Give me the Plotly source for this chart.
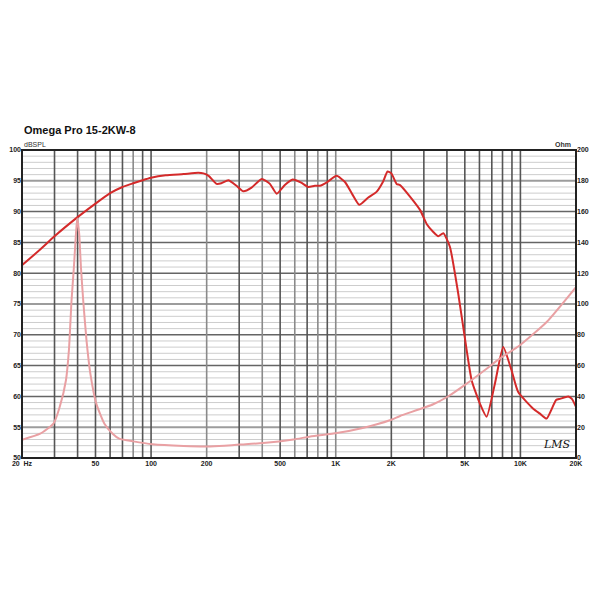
import math
import plotly.graph_objects as go

# ---- data ----
spl_freq = [20, 25, 30, 40, 50, 60, 70, 80, 90, 100, 120, 150, 180, 192, 205, 226, 240, 262, 290, 316,
            350, 397, 440, 479, 530, 585, 650, 710, 770, 821, 900, 1011, 1122, 1230, 1341, 1500, 1663,
            1800, 1908, 2000, 2137, 2230, 2530, 2870, 3106, 3374, 3590, 3822, 4150, 4605, 5117, 5445,
            6040, 6560, 7280, 8070, 8960, 9730, 11730, 12760, 13870, 15600, 16400, 18150, 19000, 20000]
spl_db = [81.3, 83.8, 86.0, 89.1, 91.3, 93.0, 94.0, 94.6, 95.1, 95.5, 95.9, 96.1, 96.3, 96.2, 95.8, 94.5, 94.6, 95.1, 94.2, 93.3,
          93.9, 95.3, 94.5, 92.9, 94.3, 95.2, 94.7, 94.0, 94.2, 94.2, 94.8, 95.8, 94.8, 92.8, 91.1, 92.3, 93.2,
          94.8, 96.5, 96.2, 94.5, 94.3, 92.4, 90.2, 88.0, 86.7, 86.0, 86.5, 84.3, 76.7, 67.5, 62.6,
          58.8, 56.7, 62.1, 68.0, 64.2, 60.7, 58.0, 57.2, 56.4, 59.4, 59.6, 60.0, 59.6, 58.3]

imp_freq = [20, 25.1, 29.6, 32.0, 34.6, 35.9, 37.1, 38.2, 39.2, 39.8, 40.8, 41.7, 42.9, 44.7, 46.9, 50.5,
            55.9, 61.9, 67.2, 80, 102, 150, 200, 250, 300, 404, 590, 728, 1013, 1400, 1964, 2230, 3374,
            4070, 5117, 6560, 7720, 9940, 13870, 20000]
imp_ohm = [11.9, 15.8, 22.3, 33.1, 50.5, 70.0, 102.4, 124.0, 145.7, 155.5, 145.7, 124.0, 102.4, 76.4, 54.8, 35.3,
           22.3, 15.8, 12.6, 10.8, 8.9, 7.8, 7.5, 8.0, 8.7, 9.7, 12.0, 14.0, 16.2, 19.5, 24.5, 27.3, 34.9,
           40.1, 48.3, 58.0, 64.5, 73.2, 88.3, 111.0]

x_tickvals = [20, 50, 100, 200, 500, 1000, 2000, 5000, 10000, 20000]
x_ticktext = ["20  Hz", "50", "100", "200", "500", "1K", "2K", "5K", "10K", "20K"]
x_grid = [30, 40, 50, 60, 70, 80, 90, 100, 200, 300, 400, 500, 600, 700, 800, 900,
          1000, 2000, 3000, 4000, 5000, 6000, 7000, 8000, 9000, 10000]
x_grid_light = [200, 80, 400, 600, 800, 1000]
y_left_ticks = [50, 55, 60, 65, 70, 75, 80, 85, 90, 95, 100]
y_right_ticks = [0, 20, 40, 60, 80, 100, 120, 140, 160, 180, 200]
y_light_major = [55, 75, 95]

FMIN, FMAX = 20, 20000
font_fam = "Liberation Sans, Arial, sans-serif"

fig = go.Figure()
fig.add_trace(go.Scatter(x=imp_freq, y=imp_ohm, yaxis="y2", mode="lines",
                         line=dict(color="#e9a0a3", width=2, shape="spline", smoothing=0.5),
                         showlegend=False, hoverinfo="skip"))
fig.add_trace(go.Scatter(x=spl_freq, y=spl_db, mode="lines",
                         line=dict(color="#d42a2a", width=2, shape="spline", smoothing=0.5),
                         showlegend=False, hoverinfo="skip"))

shapes = []
for v in range(51, 100):
    if v % 5 == 0:
        continue
    shapes.append(dict(type="line", xref="paper", yref="y", x0=0, x1=1, y0=v, y1=v,
                       line=dict(color="#cdcdcd", width=1), layer="below"))
for v in y_left_ticks[1:-1]:
    light = v in y_light_major
    shapes.append(dict(type="line", xref="paper", yref="y", x0=0, x1=1, y0=v, y1=v,
                       line=dict(color="#9c9c9c" if light else "#656565", width=2 if light else 1.5),
                       layer="below"))
span = math.log10(FMAX) - math.log10(FMIN)
for f in x_grid:
    px = (math.log10(f) - math.log10(FMIN)) / span
    light = f in x_grid_light
    shapes.append(dict(type="line", xref="paper", yref="paper", x0=px, x1=px, y0=0, y1=1,
                       line=dict(color="#8a8a8a" if light else "#555555", width=1.6), layer="below"))
shapes.append(dict(type="rect", xref="paper", yref="paper", x0=0, x1=1, y0=0, y1=1,
                   line=dict(color="#222222", width=2), layer="above"))

tf = dict(family=font_fam, size=7, color="#222", weight="bold")
fig.update_layout(
    width=600, height=600,
    margin=dict(l=14, r=32, t=142, b=150, autoexpand=False),
    paper_bgcolor="white", plot_bgcolor="white",
    shapes=shapes,
    font=dict(family=font_fam, size=7, color="#222"),
    xaxis=dict(type="log", range=[math.log10(FMIN), math.log10(FMAX)], automargin=False,
               tickvals=x_tickvals, ticktext=x_ticktext, showgrid=False, zeroline=False,
               ticks="", tickfont=tf, showline=False),
    yaxis=dict(range=[50, 100], tickvals=y_left_ticks, showgrid=False, zeroline=False,
               automargin=False, ticks="", tickfont=tf),
    yaxis2=dict(range=[0, 200], tickvals=y_right_ticks, overlaying="y", side="right",
                automargin=False, showgrid=False, zeroline=False, ticks="", tickfont=tf),
    annotations=[
        dict(text="<b>Omega Pro 15-2KW-8</b>", xref="paper", yref="paper", x=0, y=1,
             xanchor="left", yanchor="bottom", yshift=12, showarrow=False,
             font=dict(family=font_fam, size=11, color="#111")),
        dict(text="dBSPL", xref="paper", yref="paper", x=0, y=1, xanchor="left", yanchor="bottom",
             yshift=0, showarrow=False, font=dict(family=font_fam, size=7, color="#333")),
        dict(text="<b>Ohm</b>", xref="paper", yref="paper", x=0.995, y=1, xanchor="right", yanchor="bottom",
             yshift=0, showarrow=False, font=dict(family=font_fam, size=7, color="#333")),
        dict(text="<i>LMS</i>", xref="paper", yref="paper", x=0.965, y=0.045, xanchor="center",
             yanchor="middle", showarrow=False,
             font=dict(family="DejaVu Serif, serif", size=11, color="#111")),
    ],
)

fig.write_html("out.html")
